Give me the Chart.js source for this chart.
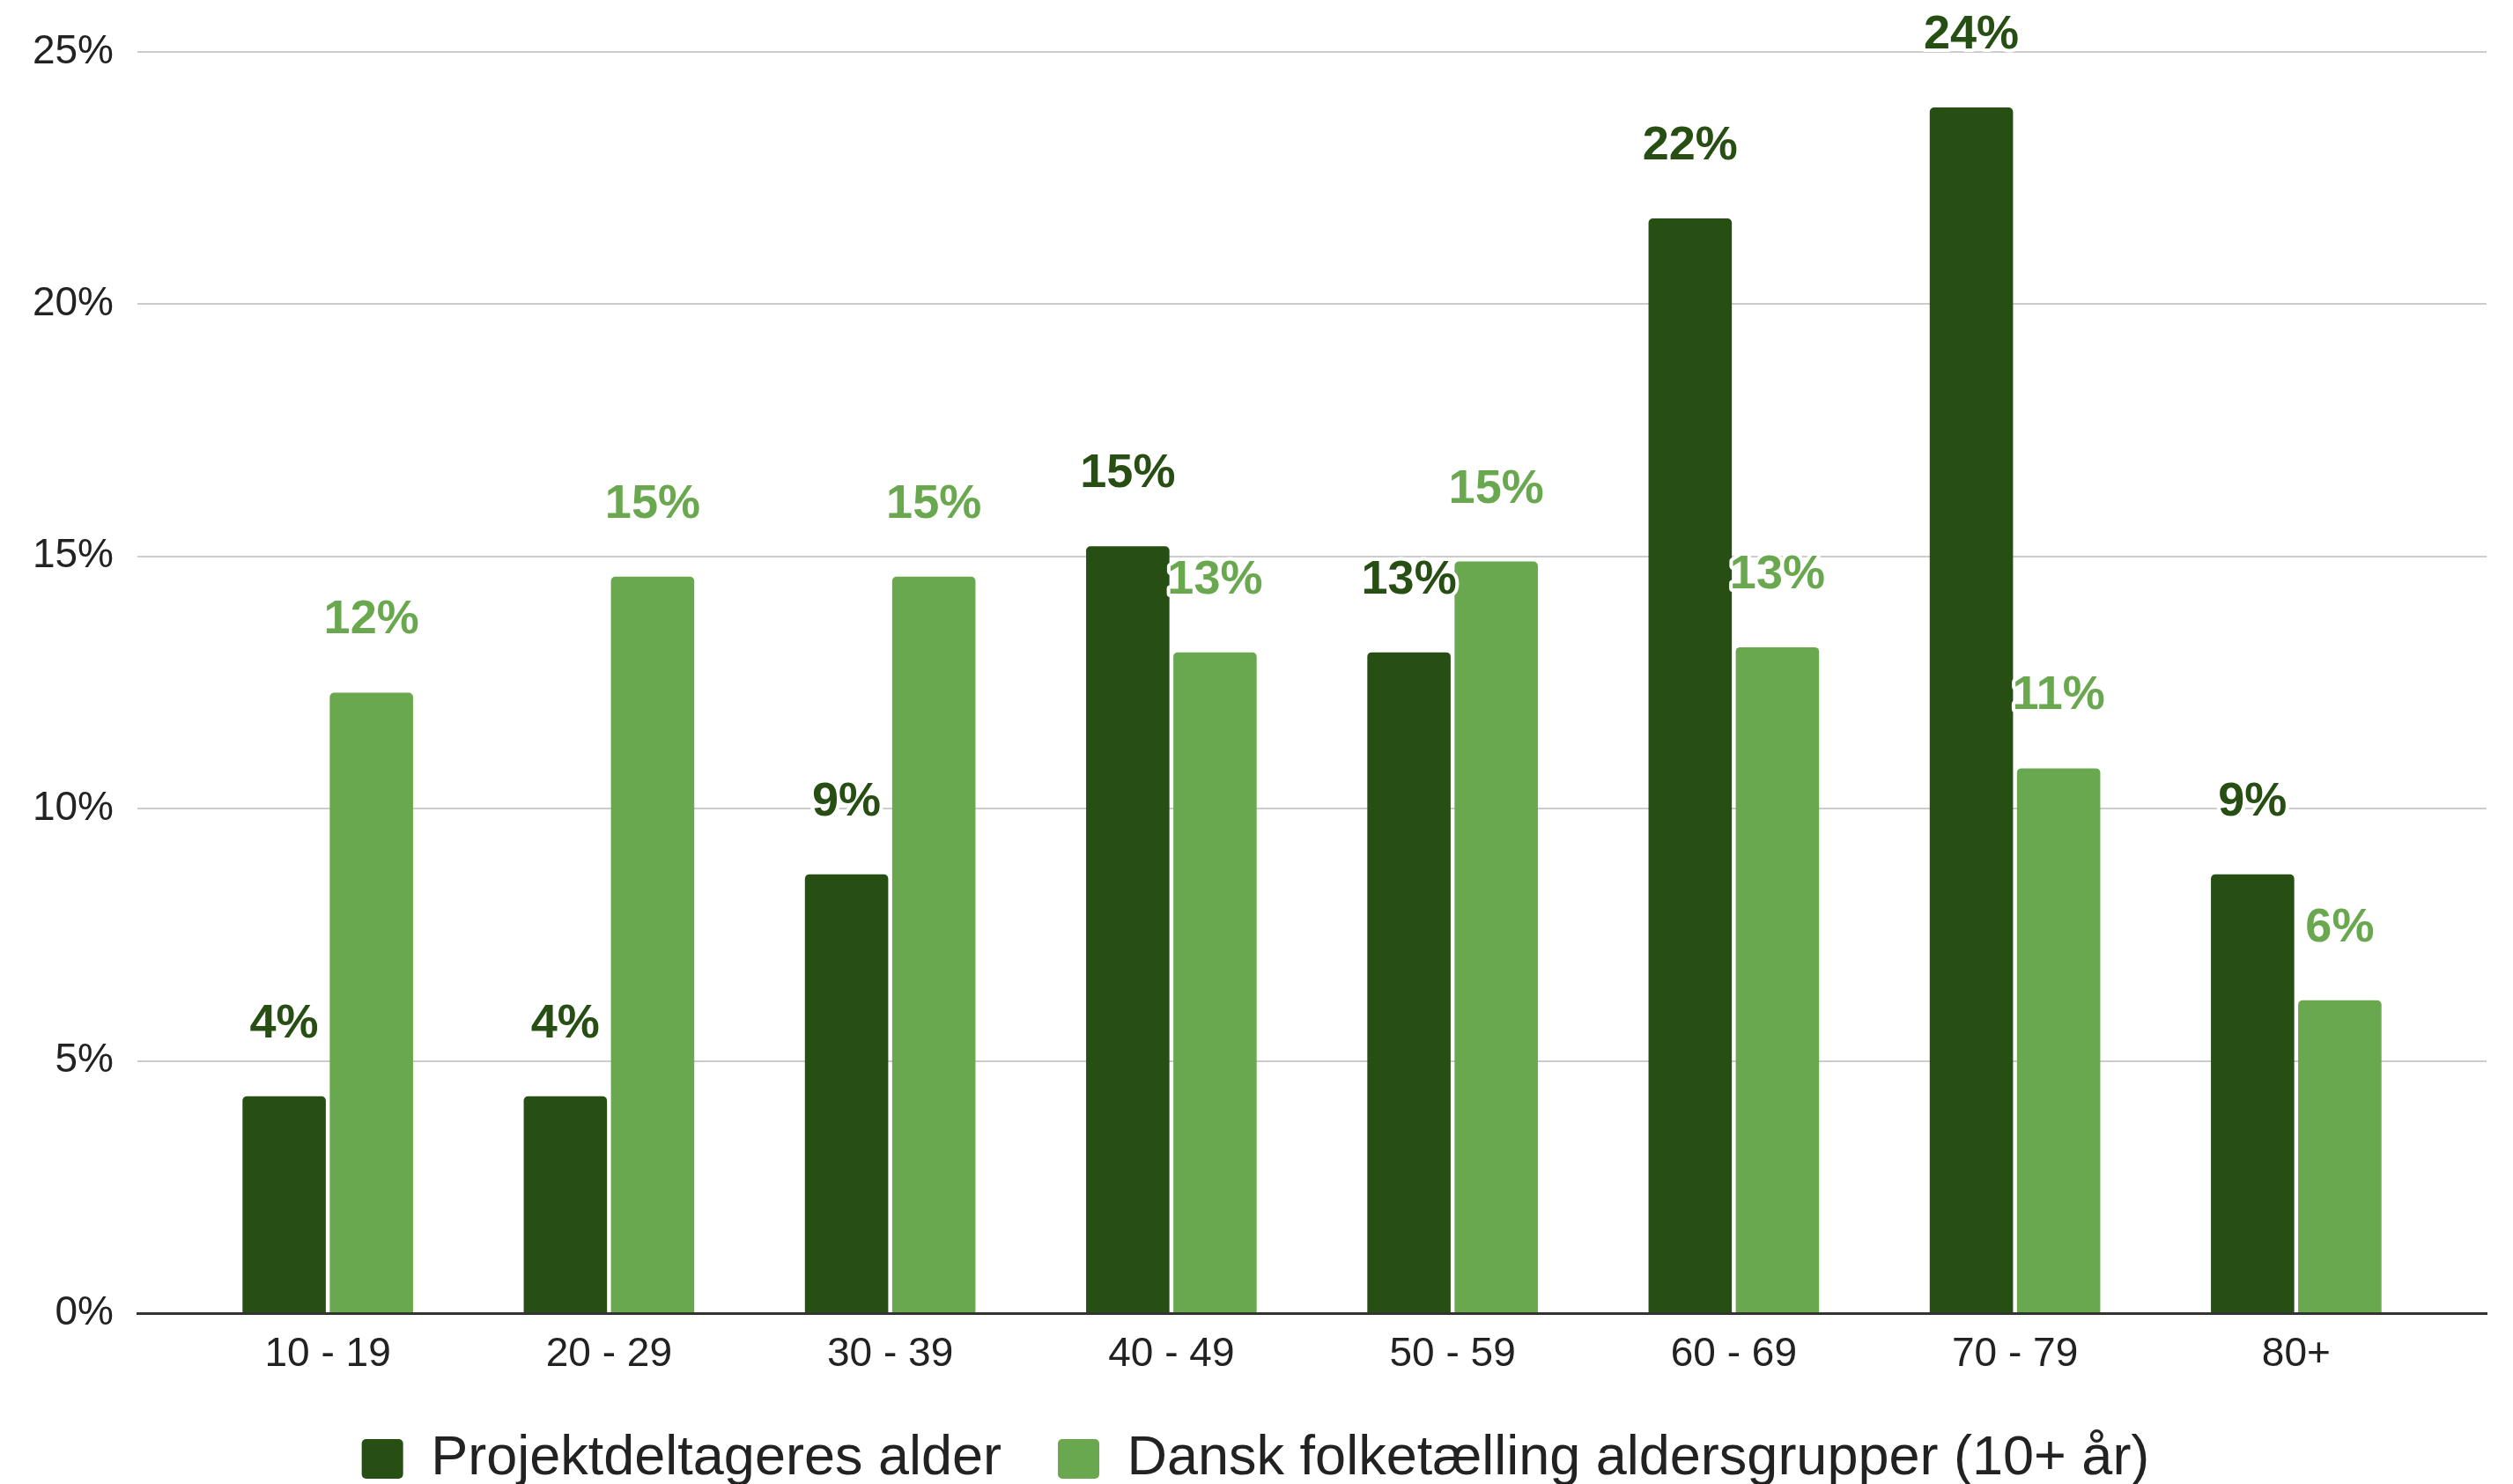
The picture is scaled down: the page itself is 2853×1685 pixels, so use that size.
<!DOCTYPE html>
<html>
<head>
<meta charset="utf-8">
<script src="https://cdn.jsdelivr.net/npm/chart.js@4.4.1/dist/chart.umd.min.js"></script>
<style>
  html, body { margin: 0; padding: 0; background: #ffffff; overflow: hidden; }
  #wrap { width: 2853px; height: 1685px; overflow: hidden; }
  canvas { display: block; }
</style>
</head>
<body>
<div id="wrap"><canvas id="c" width="2853" height="1698"></canvas></div>
<script>
const categories = ['10 - 19', '20 - 29', '30 - 39', '40 - 49', '50 - 59', '60 - 69', '70 - 79', '80+'];
const projektValues = [4.3, 4.3, 8.7, 15.2, 13.1, 21.7, 23.9, 8.7];
const folketaellingValues = [12.3, 14.6, 14.6, 13.1, 14.9, 13.2, 10.8, 6.2];
const seriesNames = ['Projektdeltageres alder', 'Dansk folketælling aldersgrupper (10+ år)'];
const yTickValues = [0, 5, 10, 15, 20, 25];

const DARK = '#274e13';
const LIGHT = '#6aa84f';
const FONT = "'Liberation Sans', Arial, sans-serif";

const toPoints = arr => arr.map((v, i) => ({ x: i, y: v }));

const valueLabels = {
  id: 'valueLabels',
  afterDatasetsDraw(chart) {
    const ctx = chart.ctx;
    ctx.save();
    ctx.font = 'bold 54px ' + FONT;
    ctx.textAlign = 'center';
    ctx.textBaseline = 'alphabetic';
    ctx.lineJoin = 'round';
    chart.data.datasets.forEach((ds, di) => {
      const meta = chart.getDatasetMeta(di);
      meta.data.forEach((bar, i) => {
        const txt = Math.round(ds.data[i].y) + '%';
        const y = bar.y - 67;
        ctx.lineWidth = 8;
        ctx.strokeStyle = '#ffffff';
        ctx.strokeText(txt, bar.x, y);
        ctx.fillStyle = ds.labelColor;
        ctx.fillText(txt, bar.x, y);
      });
    });
    ctx.restore();
  }
};

new Chart(document.getElementById('c'), {
  type: 'bar',
  data: {
    datasets: [
      { label: seriesNames[0], data: toPoints(projektValues), backgroundColor: DARK, labelColor: DARK,
        borderRadius: 5, categoryPercentage: 0.6205, barPercentage: 0.955 },
      { label: seriesNames[1], data: toPoints(folketaellingValues), backgroundColor: LIGHT, labelColor: LIGHT,
        borderRadius: 5, categoryPercentage: 0.6205, barPercentage: 0.955 }
    ]
  },
  options: {
    responsive: false,
    devicePixelRatio: 1,
    animation: false,
    layout: { padding: { left: 28, right: 30, top: 59, bottom: 0 } },
    plugins: {
      tooltip: { enabled: false },
      legend: {
        position: 'bottom',
        labels: {
          font: { family: FONT, size: 63 },
          color: '#222222',
          boxWidth: 47,
          boxHeight: 45,
          padding: 64,
          useBorderRadius: true,
          borderRadius: 5
        }
      }
    },
    scales: {
      x: {
        type: 'linear',
        min: -0.677,
        max: 7.677,
        offset: false,
        afterBuildTicks: scale => { scale.ticks = categories.map((c, i) => ({ value: i })); },
        afterFit: scale => { scale.height = 70; },
        ticks: {
          callback: v => categories[v],
          font: { family: FONT, size: 46 },
          color: '#222222',
          padding: 20,
          maxRotation: 0,
          autoSkip: false
        },
        grid: { display: false, drawTicks: false },
        border: { display: true, color: '#333333', width: 3 }
      },
      y: {
        min: 0,
        max: 25,
        afterBuildTicks: scale => { scale.ticks = yTickValues.map(v => ({ value: v })); },
        afterFit: scale => { scale.width = 128; },
        ticks: {
          callback: v => v + '%',
          font: { family: FONT, size: 46 },
          color: '#222222',
          padding: 27
        },
        grid: { color: '#cccccc', lineWidth: 2, drawTicks: false },
        border: { display: false }
      }
    }
  },
  plugins: [valueLabels]
});
</script>
</body>
</html>
